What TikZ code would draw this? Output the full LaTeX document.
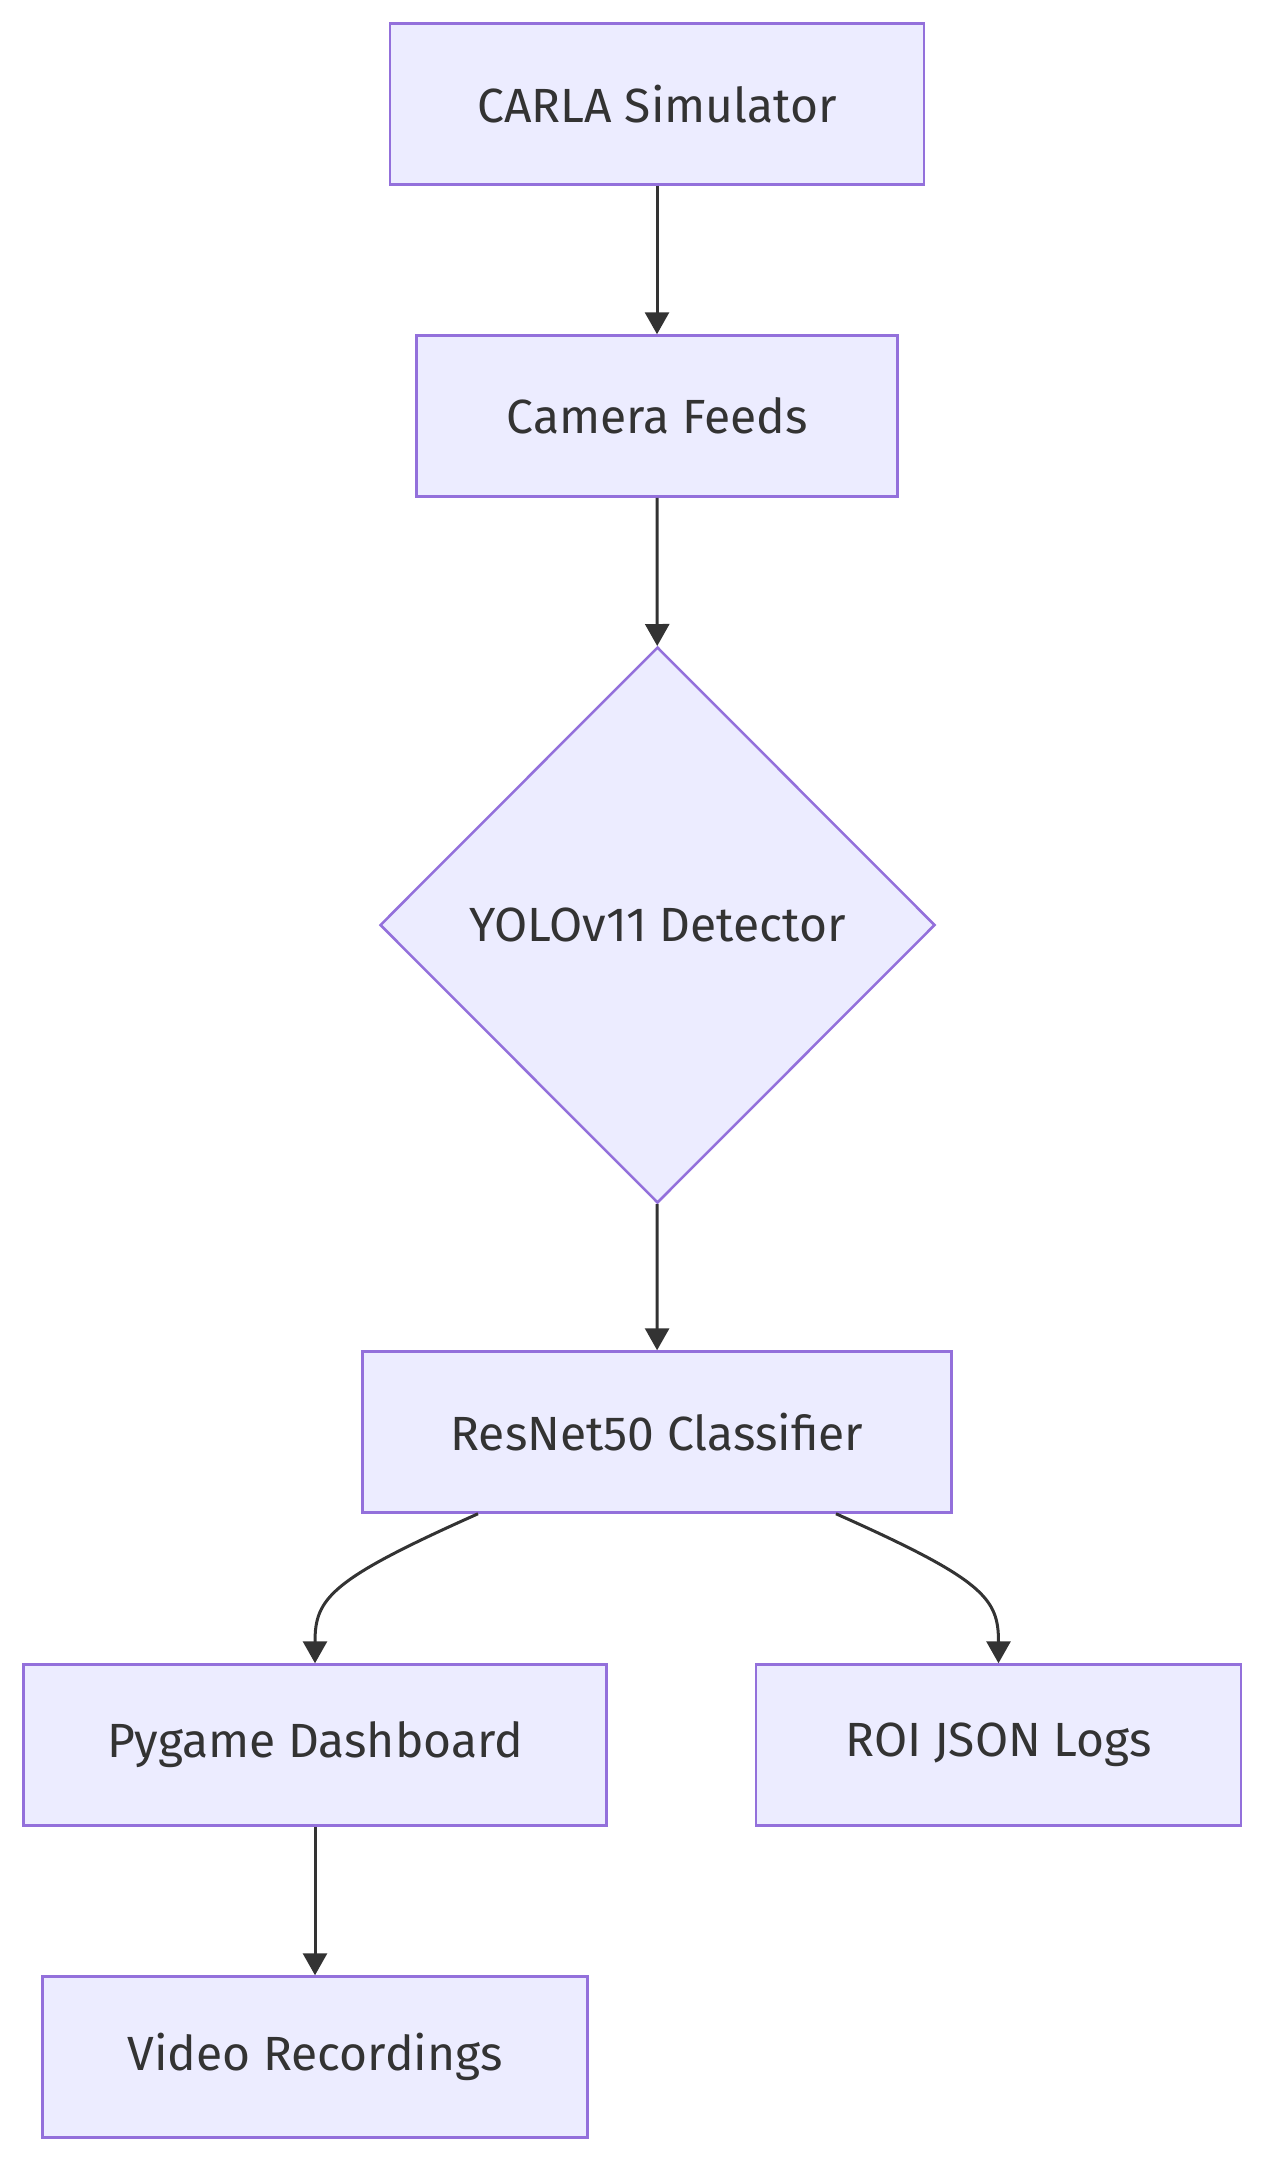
\documentclass[tikz,border=0pt]{standalone}
\usepackage{fontspec}
\setmainfont{Fira Sans}
\usetikzlibrary{shapes.geometric,arrows.meta}
\definecolor{nodefill}{HTML}{ECECFF}
\definecolor{nodeline}{HTML}{9370DB}
\definecolor{edgecol}{HTML}{333333}
\begin{document}
\begin{tikzpicture}[x=1pt,y=-1pt,
  box/.style={draw=nodeline, fill=nodefill, line width=2.5pt, minimum height=161pt,
    inner sep=0pt, text=edgecol, font=\fontsize{48}{57}\selectfont},
  dia/.style={diamond, aspect=1, draw=nodeline, fill=nodefill, line width=2.5pt,
    minimum width=555pt, minimum height=556pt, inner sep=0pt, text=edgecol,
    font=\fontsize{48}{57}\selectfont},
  edge/.style={draw=edgecol, line width=3pt, -{Triangle[length=22pt,width=24pt]}}]
\useasboundingbox (0,0) rectangle (1266,2162);
\node[box, minimum width=534pt] (carla) at (657,104) {CARLA Simulator};
\node[box, minimum width=481pt] (cam) at (657,416) {Camera Feeds};
\node[dia] (yolo) at (657.5,925) {YOLOv11 Detector};
\node[box, minimum width=589pt] (res) at (657,1432) {ResNet50 Classifier};
\node[box, minimum width=583pt] (pyg) at (315,1745) {Pygame Dashboard};
\node[box, minimum width=485pt] (roi) at (998.5,1745) {ROI JSON Logs};
\node[box, minimum width=545pt] (vid) at (315,2057) {Video Recordings};
\draw[edge] (carla) -- (cam);
\draw[edge] (cam) -- (yolo);
\draw[edge] (yolo) -- (res);
\draw[edge] ([xshift=-179pt]res.south) .. controls +(-148,66) and +(0,-65) .. (pyg.north);
\draw[edge] ([xshift=179pt]res.south) .. controls +(148,66) and +(0,-65) .. (roi.north);
\draw[edge] (pyg) -- (vid);
\end{tikzpicture}
\end{document}
